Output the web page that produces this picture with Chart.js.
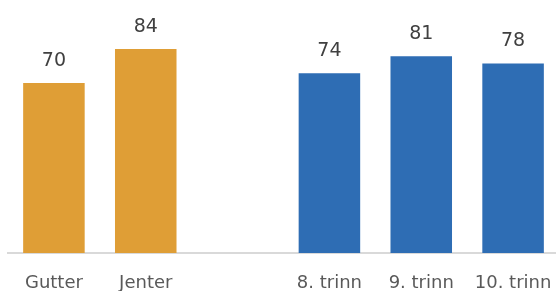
<!DOCTYPE html>
<html>
<head>
<meta charset="utf-8">
<script src="https://cdn.jsdelivr.net/npm/chart.js@4/dist/chart.umd.min.js"></script>
<style>
  html, body { margin: 0; padding: 0; background: #fff; overflow: hidden; }
  #wrap { width: 556px; height: 291px; overflow: hidden; }
</style>
</head>
<body>
<div id="wrap"><canvas id="chart" width="560" height="291"></canvas></div>
<script>
// --- dados ---
const KATEGORIER = ['Gutter', 'Jenter', '', '8. trinn', '9. trinn', '10. trinn'];
const VERDIER = [70, 84, null, 74, 81, 78];
const FARGER = ['#DF9E36', '#DF9E36', '#DF9E36', '#2E6DB4', '#2E6DB4', '#2E6DB4'];

// --- etiketter over søylene ---
const verdiEtiketter = {
    id: 'verdiEtiketter',
    afterDatasetsDraw(chart) {
        const ctx = chart.ctx;
        const meta = chart.getDatasetMeta(0);
        ctx.save();
        ctx.font = '19px "DejaVu Sans"';
        ctx.fillStyle = '#404040';
        ctx.textAlign = 'center';
        ctx.textBaseline = 'alphabetic';
        meta.data.forEach((bar, i) => {
            const v = VERDIER[i];
            if (v === null) return;
            ctx.fillText(String(v), bar.x, bar.y - 17);
        });
        ctx.restore();
    }
};

new Chart(document.getElementById('chart'), {
    type: 'bar',
    data: {
        labels: KATEGORIER,
        datasets: [{
            data: VERDIER,
            backgroundColor: FARGER,
            categoryPercentage: 1,
            barPercentage: 0.67
        }]
    },
    options: {
        responsive: false,
        animation: false,
        layout: { padding: { left: 8, right: 1, top: 10, bottom: 0 } },
        plugins: {
            legend: { display: false },
            tooltip: { enabled: false }
        },
        scales: {
            x: {
                grid: { display: false },
                border: { display: true, color: '#D9D9D9', width: 2 },
                ticks: {
                    color: '#595959',
                    font: { family: '"DejaVu Sans"', size: 18 },
                    padding: 12,
                    maxRotation: 0
                },
                afterFit(axis) {
                    axis.height = 38;
                    axis.paddingLeft = 0;
                    axis.paddingRight = 0;
                }
            },
            y: {
                display: false,
                min: 0,
                max: 100
            }
        }
    },
    plugins: [verdiEtiketter]
});
</script>
</body>
</html>
